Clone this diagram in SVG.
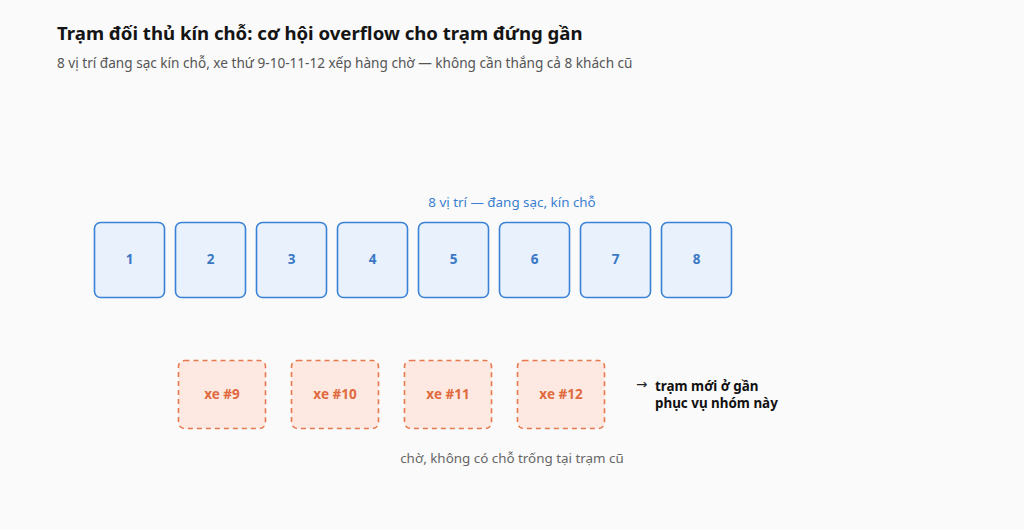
<svg xmlns="http://www.w3.org/2000/svg" width="1024" height="530" viewBox="0 0 1024 530">
<style>
text{font-family:"Noto Sans","Open Sans","DejaVu Sans",sans-serif}
.title{font-size:18.6px;font-weight:700;fill:#141414}
.sub{font-size:13.6px;fill:#555}
.slot rect{fill:#e8f1fc;stroke:#3b82d6;stroke-width:1.6}
.slot text{font-size:13.5px;font-weight:700;fill:#3a78c4;text-anchor:middle}
.car rect{fill:#fde9e1;stroke:#e8794f;stroke-width:1.6;stroke-dasharray:5 4}
.car text{font-size:13.5px;font-weight:700;fill:#e0693e;text-anchor:middle}
.lbl{font-size:13.4px;text-anchor:middle}
.note{font-size:13.4px;font-weight:700;fill:#111}
</style>
<rect width="1024" height="530" fill="#fafafa"/>
<text class="title" x="57" y="40">Trạm đối thủ kín chỗ: cơ hội overflow cho trạm đứng gần</text>
<text class="sub" x="57" y="68">8 vị trí đang sạc kín chỗ, xe thứ 9-10-11-12 xếp hàng chờ — không cần thắng cả 8 khách cũ</text>
<text class="lbl" x="512" y="207" fill="#3a7fd0">8 vị trí — đang sạc, kín chỗ</text>
<g id="slot1" class="slot"><rect x="94.5" y="222.5" width="70" height="75" rx="6"/><text x="129.5" y="264">1</text></g>
<g id="slot2" class="slot"><rect x="175.5" y="222.5" width="70" height="75" rx="6"/><text x="210.5" y="264">2</text></g>
<g id="slot3" class="slot"><rect x="256.5" y="222.5" width="70" height="75" rx="6"/><text x="291.5" y="264">3</text></g>
<g id="slot4" class="slot"><rect x="337.5" y="222.5" width="70" height="75" rx="6"/><text x="372.5" y="264">4</text></g>
<g id="slot5" class="slot"><rect x="418.5" y="222.5" width="70" height="75" rx="6"/><text x="453.5" y="264">5</text></g>
<g id="slot6" class="slot"><rect x="499.5" y="222.5" width="70" height="75" rx="6"/><text x="534.5" y="264">6</text></g>
<g id="slot7" class="slot"><rect x="580.5" y="222.5" width="70" height="75" rx="6"/><text x="615.5" y="264">7</text></g>
<g id="slot8" class="slot"><rect x="661.5" y="222.5" width="70" height="75" rx="6"/><text x="696.5" y="264">8</text></g>
<g id="car9" class="car"><rect x="178.5" y="360.5" width="87" height="68" rx="6"/><text x="222" y="399">xe #9</text></g>
<g id="car10" class="car"><rect x="291.5" y="360.5" width="87" height="68" rx="6"/><text x="335" y="399">xe #10</text></g>
<g id="car11" class="car"><rect x="404.5" y="360.5" width="87" height="68" rx="6"/><text x="448" y="399">xe #11</text></g>
<g id="car12" class="car"><rect x="517.5" y="360.5" width="87" height="68" rx="6"/><text x="561" y="399">xe #12</text></g>
<g id="connectors"></g>
<g id="note">
<text x="636" y="389" font-size="13.4" fill="#222">→</text>
<text class="note" x="655" y="391">trạm mới ở gần</text>
<text class="note" x="655" y="408">phục vụ nhóm này</text>
</g>
<text class="lbl" x="512" y="463" fill="#666">chờ, không có chỗ trống tại trạm cũ</text>
</svg>
